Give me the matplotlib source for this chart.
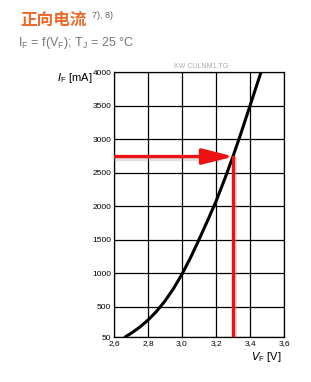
import numpy as np
import matplotlib.pyplot as plt
from matplotlib.patches import FancyArrowPatch

# Kurvendaten
vf = [2.665, 2.70, 2.75, 2.80, 2.85, 2.90, 2.95, 3.00, 3.05, 3.10,
      3.15, 3.20, 3.25, 3.30, 3.35, 3.40, 3.465]
i_f = [50, 104, 194, 302, 432, 587, 772, 987, 1232, 1502,
       1782, 2072, 2397, 2742, 3112, 3497, 4000]

xticks = [2.6, 2.8, 3.0, 3.2, 3.4, 3.6]
xtick_labels = ["2,6", "2,8", "3,0", "3,2", "3,4", "3,6"]
yticks = [50, 500, 1000, 1500, 2000, 2500, 3000, 3500, 4000]

op_v = 3.3
op_i = 2740

plt.rcParams['font.family'] = ['Noto Sans CJK SC', 'DejaVu Sans']

fig = plt.figure(figsize=(3.11, 3.82), dpi=100)
ax = fig.add_axes([0.3666, 0.1178, 0.5466, 0.6937])

ax.set_xlim(2.6, 3.6)
ax.set_ylim(50, 4000)
ax.set_xticks(xticks)
ax.set_xticklabels(xtick_labels)
ax.set_yticks(yticks)
ax.set_yticklabels([str(t) for t in yticks])
ax.tick_params(length=0, labelsize=6, pad=2)
for lab in ax.get_xticklabels() + ax.get_yticklabels():
    lab.set_family(['Liberation Sans', 'DejaVu Sans'])
ax.grid(True, color='black', linewidth=0.9)
for s in ax.spines.values():
    s.set_linewidth(0.9)

ax.plot(vf, i_f, color='black', linewidth=2.2, zorder=3, solid_capstyle='round', solid_joinstyle='round')

# Arbeitspunkt-Pfeile (mit Schatten)
ax.plot([op_v + 0.009, op_v + 0.009], [50, op_i - 40], color='#999999', linewidth=3, zorder=3.5, alpha=0.35)
ax.plot([2.6, op_v - 0.08], [op_i - 40, op_i - 40], color='#999999', linewidth=2.5, zorder=3.5, alpha=0.3)
ax.plot([op_v, op_v], [50, op_i], color='#ee1111', linewidth=2.4, zorder=4)
arr = FancyArrowPatch((2.6, op_i), (op_v + 0.004, op_i), arrowstyle='-|>,head_length=19,head_width=4.8',
                      color='#ee1111', linewidth=2.4, mutation_scale=1, zorder=4, shrinkA=0, shrinkB=0)
ax.add_patch(arr)

fig.text(20 / 311, 1 - 20 / 382, "正向电流", color='#ef6a2a', fontsize=12, fontweight='bold', va='center')
fig.text(92 / 311, 1 - 16 / 382, "7), 8)", color='#666666', fontsize=6.5, va='center',
         family=['Liberation Sans', 'DejaVu Sans'])
fig.text(18 / 311, 1 - 43 / 382, "I$_\\mathregular{F}$ = f(V$_\\mathregular{F}$); T$_\\mathregular{J}$ = 25 °C",
         color='#777777', fontsize=9, va='center', family=['Liberation Sans', 'DejaVu Sans'])
fig.text(201 / 311, 1 - 67 / 382, "KW CULNM1.TG", color='#aaaaaa', fontsize=5, ha='center', va='center',
         family=['Liberation Sans', 'DejaVu Sans'])
fig.text(57 / 311, 1 - 78 / 382, "$\\mathit{I}$$_\\mathregular{F}$ [mA]", color='black', fontsize=8,
         va='center', family=['Liberation Sans', 'DejaVu Sans'])
fig.text(282 / 311, 1 - 357 / 382, "$\\mathit{V}$$_\\mathregular{F}$ [V]", color='black', fontsize=8,
         ha='right', va='center', family=['Liberation Sans', 'DejaVu Sans'])

fig.savefig("out.png", dpi=100)
